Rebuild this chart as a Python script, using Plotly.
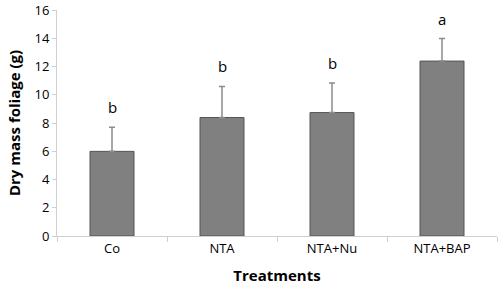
import plotly.graph_objects as go

categories = ["Co", "NTA", "NTA+Nu", "NTA+BAP"]
values = [6.0, 8.4, 8.75, 12.4]
errors = [1.7, 2.2, 2.1, 1.6]
letters = ["b", "b", "b", "a"]
y_ticks = [0, 2, 4, 6, 8, 10, 12, 14, 16]

font_family = "Open Sans, Liberation Sans, sans-serif"

fig = go.Figure()
fig.add_trace(go.Bar(
    x=categories, y=values,
    width=0.4,
    marker=dict(color="#808080", line=dict(color="#555555", width=1)),
    error_y=dict(type="data", array=errors, arrayminus=[0]*len(errors),
                 symmetric=False, color="#8c8c8c", thickness=1.5, width=3),
))

for c, v, e, l in zip(categories, values, errors, letters):
    fig.add_annotation(x=c, y=v + e, text=l, showarrow=False,
                       yanchor="bottom", yshift=8,
                       font=dict(family=font_family, size=15, color="#000"))

fig.update_layout(
    width=498, height=286,
    margin=dict(l=57, r=1, t=10, b=50),
    plot_bgcolor="white", paper_bgcolor="white",
    showlegend=False,
    bargap=0.6,
    font=dict(family=font_family, size=12, color="#000"),
)
fig.update_xaxes(
    automargin=False,
    showline=True, linecolor="#d0d0d0", linewidth=1,
    ticks="outside", tickson="boundaries", ticklen=5, tickcolor="#d0d0d0",
    tickfont=dict(size=13),
    title=dict(text="<b>Treatments</b>", font=dict(size=15), standoff=14),
    showgrid=False,
)
fig.update_yaxes(
    automargin=False,
    range=[0, 16.02], tickvals=y_ticks,
    ticklabeloverflow="allow",
    showline=True, linecolor="#d0d0d0", linewidth=1,
    ticks="outside", ticklen=4, tickcolor="#d0d0d0",
    tickfont=dict(size=13),
    title=dict(text="<b>Dry mass foliage (g)</b>", font=dict(size=15), standoff=10),
    showgrid=False, zeroline=False,
)

fig.write_html("out.html", config={"displayModeBar": False},
               post_script="document.body.style.margin='0';")
